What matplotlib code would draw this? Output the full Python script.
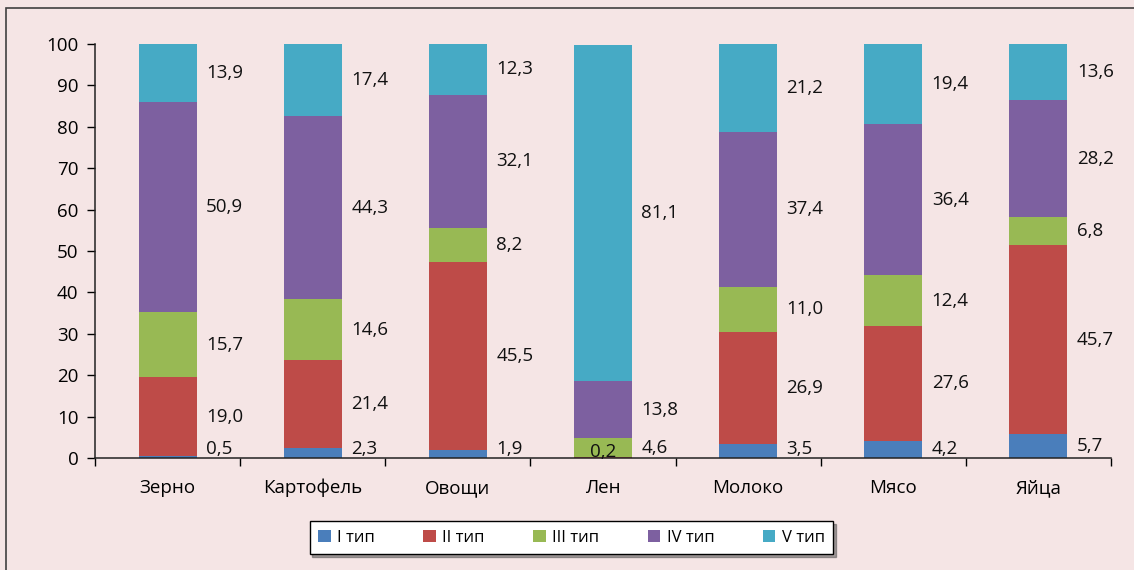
import numpy as np
import matplotlib
matplotlib.use("Agg")
import matplotlib.pyplot as plt
from matplotlib.patches import Rectangle

plt.rcParams["font.family"] = ["Open Sans", "DejaVu Sans"]

categories = ["Зерно", "Картофель", "Овощи", "Лен", "Молоко", "Мясо", "Яйца"]
series_names = ["I тип", "II тип", "III тип", "IV тип", "V тип"]
type1 = [0.5, 2.3, 1.9, 0.0, 3.5, 4.2, 5.7]
type2 = [19.0, 21.4, 45.5, 0.2, 26.9, 27.6, 45.7]
type3 = [15.7, 14.6, 8.2, 4.6, 11.0, 12.4, 6.8]
type4 = [50.9, 44.3, 32.1, 13.8, 37.4, 36.4, 28.2]
type5 = [13.9, 17.4, 12.3, 81.1, 21.2, 19.4, 13.6]
colors = ["#4A7EBB", "#BE4B48", "#98B954", "#7D60A0", "#46AAC5"]

bg = "#F5E5E5"
fs = 13.5
fig = plt.figure(figsize=(11.34, 5.70), dpi=100, facecolor=bg)
ax = fig.add_axes([95 / 1134, 1 - 458 / 570, (1111 - 95) / 1134, (458 - 44) / 570])
ax.set_facecolor(bg)

# outer chart frame
fig.patches.append(Rectangle((6 / 1134, -0.1), 1.2, 1 - 8 / 570 + 0.1,
                             transform=fig.transFigure, fill=False,
                             edgecolor="#404040", linewidth=1.2, zorder=0))

x = np.arange(len(categories))
width = 0.4
bottom = np.zeros(len(categories))
for name, vals, col in zip(series_names, [type1, type2, type3, type4, type5], colors):
    vals = np.array(vals)
    ax.bar(x, vals, width, bottom=bottom, color=col, label=name,
           edgecolor="none", zorder=2)
    for i, v in enumerate(vals):
        if v == 0:
            continue
        label = f"{v:.1f}".replace(".", ",")
        yc = max(bottom[i] + v / 2, 2.1)
        if type1[i] == 0 and v < 1:
            ax.text(x[i], 1.4, label, ha="center", va="center", fontsize=fs,
                    color="#111111", zorder=3)
        else:
            ax.text(x[i] + 0.265, yc, label, ha="left", va="center",
                    fontsize=fs, color="#111111", zorder=3)
    bottom += vals

ax.set_xlim(-0.5, len(categories) - 0.5)
ax.set_ylim(0, 100)
ax.set_yticks(np.arange(0, 101, 10))
ax.set_xticks(x)
ax.set_xticklabels(categories)
ax.set_xticks(np.arange(-0.5, len(categories), 1), minor=True)
ax.tick_params(axis="x", which="major", length=0, pad=15, labelsize=fs)
ax.tick_params(axis="x", which="minor", length=6, direction="out", width=1)
ax.tick_params(axis="y", length=6, direction="out", width=1, labelsize=fs, pad=6)
for s in ["top", "right"]:
    ax.spines[s].set_visible(False)
for s in ["left", "bottom"]:
    ax.spines[s].set_linewidth(1.1)
    ax.spines[s].set_color("#222222")

leg = fig.legend(loc="center", bbox_to_anchor=(571.5 / 1134, 1 - 537.5 / 570),
                 ncol=5, frameon=True, fancybox=False, shadow=True,
                 fontsize=12, handlelength=0.75, handleheight=0.75,
                 handletextpad=0.4, columnspacing=2.9, borderpad=0.5)
leg.get_frame().set_edgecolor("black")
leg.get_frame().set_facecolor("white")
leg.get_frame().set_linewidth(1.0)

fig.savefig("out.png", dpi=100, facecolor=bg)
